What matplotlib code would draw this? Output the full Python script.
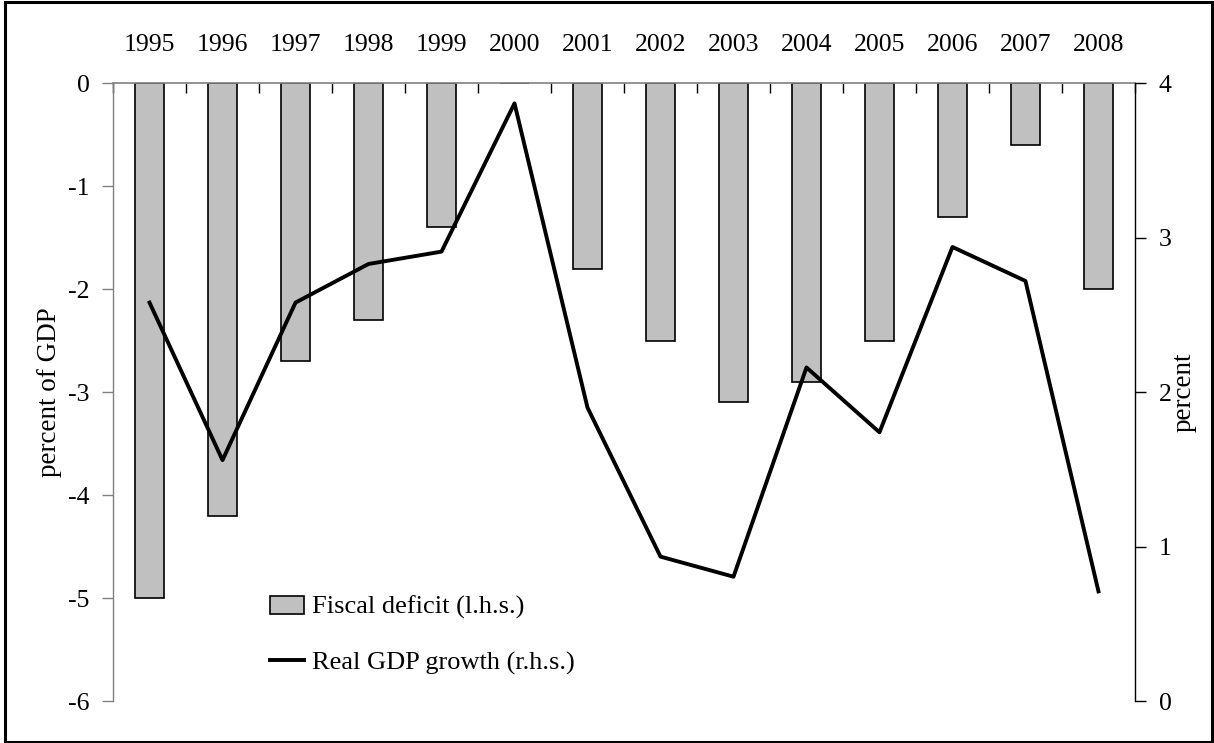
import matplotlib.pyplot as plt
from matplotlib.patches import Rectangle
from matplotlib.lines import Line2D

plt.rcParams.update({
    "font.family": ["Liberation Serif", "DejaVu Serif"],
    "font.size": 18.5,
})

years = [str(y) for y in range(1995, 2009)]
fiscal_deficit = [-5.0, -4.2, -2.7, -2.3, -1.4, 0.0, -1.8, -2.5, -3.1, -2.9, -2.5, -1.3, -0.6, -2.0]
gdp_growth = [2.58, 1.56, 2.58, 2.83, 2.91, 3.87, 1.90, 0.935, 0.805, 2.16, 1.74, 2.94, 2.72, 0.71]

fig = plt.figure(figsize=(12.14, 7.43), dpi=100)
ax = fig.add_axes([0.0931, 0.0565, 0.8418, 0.8314])

x = list(range(len(years)))
ax.bar(x, fiscal_deficit, width=0.4, color="#c0c0c0", edgecolor="black", linewidth=1.2, zorder=2)
ax.set_xlim(-0.5, len(years) - 0.5)
ax.set_ylim(-6, 0)
ax.set_yticks(range(-6, 1))
ax.set_yticklabels([str(v) for v in range(-6, 1)])

# category axis sits on the zero line at the top
ax.xaxis.tick_top()
ax.set_xticks(x)
ax.set_xticklabels(years)
ax.set_xticks([i - 0.5 for i in range(len(years) + 1)], minor=True)
ax.tick_params(axis="x", which="major", length=0, pad=20)
ax.tick_params(axis="x", which="minor", direction="in", length=7, width=1, color="black", top=True)
ax.tick_params(axis="y", direction="out", length=8, width=1, color="#808080", pad=9)

for side in ["bottom", "right"]:
    ax.spines[side].set_visible(False)
ax.spines["left"].set_color("#808080")
ax.spines["top"].set_color("#808080")
ax.spines["left"].set_linewidth(1)
ax.spines["top"].set_linewidth(1.2)
ax.set_ylabel("percent of GDP", fontsize=19.5, labelpad=4)

ax2 = ax.twinx()
ax2.plot(x, gdp_growth, color="black", linewidth=2.8, zorder=3)
ax2.set_ylim(0, 4)
ax2.set_yticks(range(0, 5))
ax2.tick_params(axis="y", direction="out", length=8, width=1, color="black", pad=9)
for side in ["bottom", "top", "left"]:
    ax2.spines[side].set_visible(False)
ax2.spines["right"].set_linewidth(1)
ax2.set_ylabel("percent", fontsize=19.5, labelpad=0)

handles = [
    Rectangle((0, 0), 1, 1, facecolor="#c0c0c0", edgecolor="black", linewidth=1.2),
    Line2D([0], [0], color="black", linewidth=2.8),
]
labels = ["Fiscal deficit (l.h.s.)", "Real GDP growth (r.h.s.)"]
fig.legend(handles, labels, loc="upper left", bbox_to_anchor=(270 / 1214, 1 - 596 / 743),
           frameon=False, borderpad=0, borderaxespad=0, handlelength=1.3, handleheight=0.65,
           handletextpad=0.3, labelspacing=1.2, fontsize=19)

# outer frame around the whole chart
fig.patches.append(Rectangle((0.004, 0.002), 0.994, 0.995, transform=fig.transFigure,
                             fill=False, edgecolor="black", linewidth=2.2))

fig.savefig("out.png", dpi=100)
